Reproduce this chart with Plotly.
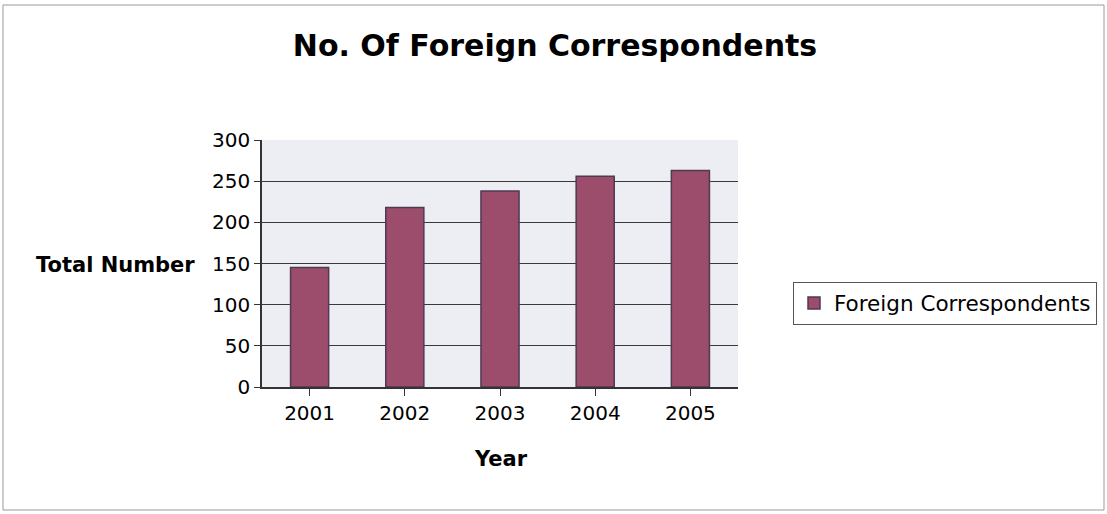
import plotly.graph_objects as go

years = ["2001", "2002", "2003", "2004", "2005"]
correspondents = [145, 218, 238, 256, 263]
series_name = "Foreign Correspondents"
y_ticks = [0, 50, 100, 150, 200, 250, 300]

FONT = "DejaVu Sans, Verdana, sans-serif"
BAR = "#9B4D6B"

W, H = 1107, 514
L, R, T, B = 262, 369, 140, 127
PW, PH = W - L - R, H - T - B

fig = go.Figure()
fig.add_trace(go.Bar(
    x=years, y=correspondents, name=series_name,
    width=0.40,
    marker=dict(color=BAR, line=dict(color="#4E3A52", width=1.5)),
))

fig.update_layout(
    width=W, height=H,
    autosize=False,
    margin=dict(l=L, r=R, t=T, b=B, autoexpand=False),
    paper_bgcolor="white",
    plot_bgcolor="#ECEEF4",
    font=dict(family=FONT, size=20, color="black"),
    title=dict(text="<b>No. Of Foreign Correspondents</b>", x=555 / W, xref="container",
               y=1 - 45 / H, yref="container", xanchor="center", yanchor="middle",
               font=dict(size=30, family=FONT)),
    showlegend=True,
    legend=dict(x=(793 - L) / PW, y=(387 - 303) / PH, xanchor="left", yanchor="middle",
                bordercolor="#555555", borderwidth=1, bgcolor="white",
                itemwidth=30,
                font=dict(size=21.5, family=FONT)),
)
fig.update_xaxes(showline=True, linecolor="#333333", linewidth=1.5,
                 ticks="outside", ticklen=7, tickcolor="#333333",
                 tickfont=dict(size=20), showgrid=False)
fig.update_yaxes(range=[0, 300], tickvals=y_ticks, showline=True, linecolor="#333333",
                 linewidth=1.5, ticks="outside", ticklen=6, tickcolor="#333333",
                 gridcolor="#3A3A3A", gridwidth=1, zeroline=False,
                 tickfont=dict(size=20))

fig.add_annotation(text="<b>Total Number</b>", xref="paper", yref="paper",
                   x=(197 - L) / PW, y=(387 - 265) / PH, xanchor="right", yanchor="middle",
                   showarrow=False, font=dict(size=21, family=FONT))
fig.add_annotation(text="<b>Year</b>", xref="paper", yref="paper",
                   x=(501 - L) / PW, y=(387 - 459) / PH, xanchor="center", yanchor="middle",
                   showarrow=False, font=dict(size=21, family=FONT))

# chart frame
fig.add_shape(type="rect", xref="paper", yref="paper",
              x0=(3 - L) / PW, x1=(W - 3 - L) / PW,
              y0=(387 - (H - 4)) / PH, y1=(387 - 5) / PH,
              line=dict(color="#9A9A9A", width=1), layer="below")

fig.write_html("out.html", config={"displayModeBar": False})

# remove the browser's default page margin so the figure sits at (0, 0)
with open("out.html", "r", encoding="utf-8") as f:
    html = f.read()
html = html.replace("<body>", '<body style="margin:0;padding:0;overflow:hidden">', 1)
with open("out.html", "w", encoding="utf-8") as f:
    f.write(html)
